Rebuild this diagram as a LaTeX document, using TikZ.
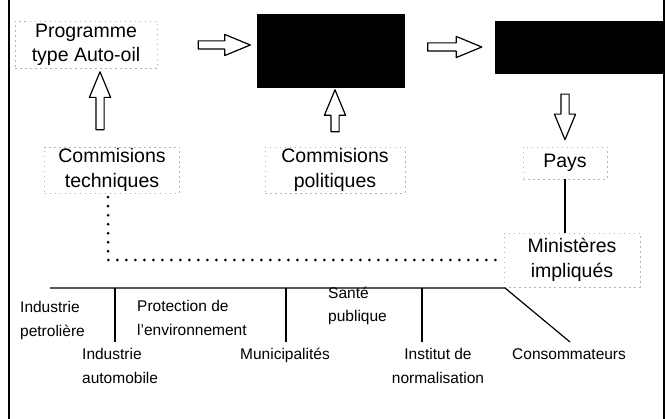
\documentclass[tikz,border=0pt]{standalone}
\usepackage{fontspec}
\setmainfont{Liberation Sans}
\usetikzlibrary{positioning,calc,shapes.arrows}

% open block arrow laid along the line between two points, with gaps at both ends
\newcommand{\blockarrow}[4]{%
  \path let \p1=($(#2)-(#1)$), \n1={veclen(\x1,\y1)-#3-#4} in
    ($(#1)!#3!(#2)$) -- ($(#2)!#4!(#1)$)
    node[hollow arrow, midway, sloped, allow upside down, minimum height=\n1] {};}

\begin{document}
\begin{tikzpicture}[x=1pt, y=-1pt, line join=round,
  label/.style={font=\fontsize{19.5}{24.5}\selectfont, align=center, inner sep=0pt,
    draw=black!30, line width=0.5pt, dash pattern=on 1.5pt off 3.5pt},
  blackbox/.style={fill=black, draw=black, inner sep=0pt},
  small/.style={font=\fontsize{15.5}{23.5}\selectfont, align=left, anchor=base west, inner sep=0pt},
  hollow arrow/.style={single arrow, draw, fill=white, line width=1.2pt, inner sep=3.5pt,
    single arrow head extend=6.5pt, single arrow tip angle=45, minimum width=0pt},
  linkdots/.style={line width=3pt, dash pattern=on 0pt off 9pt, line cap=round}]

\useasboundingbox (0,0) rectangle (666,419);
% side rules
\draw[line width=2pt] (9,0) -- (9,419);
\draw[line width=2pt] (664,0) -- (664,419);

% top row
\node[label, minimum width=142, minimum height=47] (prog) at (86,45) {Programme\\type Auto-oil};
\node[blackbox, minimum width=147, minimum height=73] (ens) at (331,51) {};
\node[blackbox, minimum width=168, minimum height=52] (presc) at (579,47) {};

% commissions and national level
\node[label, minimum width=135, minimum height=46] (ctech) at (112,170) {Commisions\\techniques};
\node[label, minimum width=140, minimum height=46] (cpol) at (335,170) {Commisions\\politiques};
\node[label, minimum width=84, minimum height=32] (pays) at (565,163) {Pays};
\node[label, minimum width=136, minimum height=54] (minist) at (572,260) {Ministères\\impliqués};

\coordinate (a1) at (prog.east -| ens.west);
\coordinate (a2) at (presc.west -| ens.east);
\coordinate (a3) at ($(ctech.north)+(-12,0)$);
\coordinate (a3e) at (a3 |- prog.south);
\coordinate (a4) at (cpol.north |- ens.south);
\coordinate (a5) at (pays.north |- presc.south);

\blockarrow{prog.east}{a1}{36pt}{12pt}
\blockarrow{a2}{presc.west}{18pt}{18pt}
\blockarrow{a3}{a3e}{12pt}{8pt}
\blockarrow{cpol.north}{a4}{10pt}{7pt}
\blockarrow{a5}{pays.north}{16pt}{12pt}

\draw[line width=1.2pt] (pays.south) -- (pays.south |- minist.north);
\draw[linkdots] ($(ctech.south)+(-4,4)$) |- ([xshift=-8pt]minist.west);

% interested parties (base = last line)
\draw[line width=1.2pt] (50,288) -- (505,288) -- (570,342);
\foreach \x in {115,286,422}
  \draw[line width=1.2pt] (\x,288) -- (\x,342);

\node[small] (petr) at (20,336) {Industrie\\petrolière};
\node[small] (envir) at (137,335) {Protection de\\l'environnement};
\node[small] (sante) at (328,322) {Santé\\publique};
\node[small] (auto) at (82,383) {Industrie\\automobile};
\node[small] (munic) at (240,359) {Municipalités};
\node[small, align=center, anchor=base] (norm) at (438,383) {Institut de\\normalisation};
\node[small] (conso) at (512,359) {Consommateurs};
\end{tikzpicture}
\end{document}
